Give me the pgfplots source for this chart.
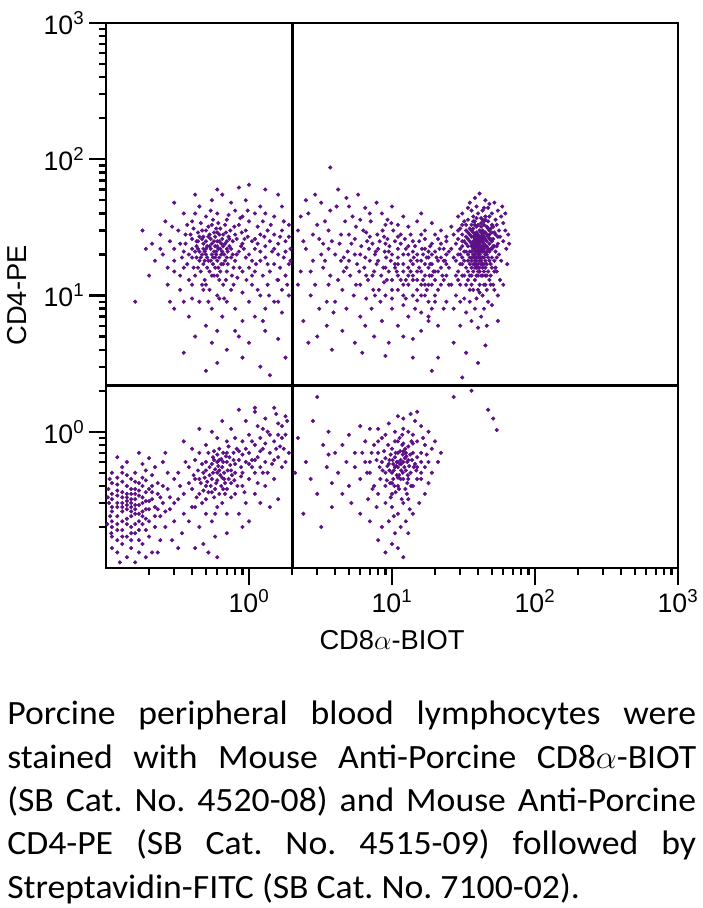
\documentclass[border=0pt]{standalone}
\usepackage{pgfplots}
\pgfplotsset{compat=1.18}
\usepackage{fontspec}
\setmainfont{Liberation Sans}
\newfontfamily\capfont[FakeStretch=1.05]{Carlito}
\definecolor{dotcol}{RGB}{92,16,134}
\pgfplotsset{dots/.style={only marks, mark=*, mark size=1.35pt, color=dotcol, mark options={draw=none, fill=dotcol}}}
\begin{document}
\frenchspacing
\begin{tikzpicture}[x=0.75pt,y=0.75pt]
\path[use as bounding box] (0,0) rectangle (703,908);
\begin{axis}[
  at={(79.5pt,255pt)}, anchor=south west,
  scale only axis, width=429pt, height=408.75pt,
  xmode=log, ymode=log,
  xmin=0.1, xmax=1000, ymin=0.1, ymax=1000,
  axis line style={line width=2.2pt},
  xtick={1,10,100,1000}, ytick={1,10,100,1000},
  xticklabels={10\textsuperscript{0},10\textsuperscript{1},10\textsuperscript{2},10\textsuperscript{3}},
  yticklabels={10\textsuperscript{0},10\textsuperscript{1},10\textsuperscript{2},10\textsuperscript{3}},
  minor xtick={0.2,0.3,0.4,0.5,0.6,0.7,0.8,0.9,2,3,4,5,6,7,8,9,20,30,40,50,60,70,80,90,200,300,400,500,600,700,800,900},
  minor ytick={0.2,0.3,0.4,0.5,0.6,0.7,0.8,0.9,2,3,4,5,6,7,8,9,20,30,40,50,60,70,80,90,200,300,400,500,600,700,800,900},
  tick align=outside,
  xtick pos=bottom, ytick pos=left,
  major tick length=12.75pt, minor tick length=5.25pt,
  every tick/.style={black, line width=1.8pt},
  tick label style={font=\fontsize{20}{22}\selectfont},
  label style={font=\fontsize{20.5}{23}\selectfont},
  xlabel={CD8$\alpha$-BIOT}, ylabel={CD4-PE},
  xlabel style={at={(axis description cs:0.5,-0.132)}, anchor=center},
  ylabel style={at={(axis description cs:-0.1556,0.5)}, anchor=center},
]
% upper right dense cluster (CD4+ CD8 high)
\addplot[dots] coordinates {
(38,20) (40,22) (42,19) (36,24) (44,21) (39,17) (41,26) (37,15) (43,25) (45,18) (35,21) (40,16) (38,28) (42,23) (46,20) (39,14) (44,27) (36,18) (41,20) (43,16) (37,22) (40,25) (42,29) (38,13) (45,23) (35,17) (39,24) (41,15) (47,22) (36,27) (40,19) (43,21) (38,18) (44,15) (37,29) (42,17) (39,21) (46,25) (34,23) (41,24) (40,28) (45,14) (38,23) (43,19) (36,16) (42,26) (39,19) (44,24) (37,19) (40,14) (41,30) (35,25) (46,17) (38,26) (43,28) (40,21) (42,21) (39,27) (45,26) (37,17) (44,19) (36,21) (41,18) (38,16) (43,23) (40,24) (47,19) (35,19) (42,14) (39,23) (44,29) (37,25) (41,22) (46,21) (38,21) (40,17) (43,30) (36,23) (42,25) (39,16) (45,20) (41,27) (37,20) (44,22) (40,20) (38,24) (42,18) (48,24) (34,18) (41,16) (39,29) (43,17) (36,14) (45,29) (40,26) (38,19) (44,17) (37,27) (42,22) (39,18) (46,28) (35,28) (41,21) (43,14) (40,15) (38,22) (44,26) (36,19) (42,27) (39,25) (45,16) (37,23) (41,19) (40,23) (43,26) (47,27) (34,20) (38,17)
(30,20) (32,25) (29,15) (50,22) (52,18) (55,24) (48,30) (33,12) (31,33) (49,14) (27,19) (53,28) (47,35) (34,36) (28,24) (51,32) (56,20) (33,30) (46,11) (30,12) (50,16) (35,11) (48,38) (38,35) (42,37) (44,33) (40,40) (36,33) (54,15) (31,17) (26,22) (57,27) (32,14) (49,26) (45,36) (37,11) (43,10) (39,9.5) (41,12) (35,9) (47,9) (52,11) (30,9) (44,8) (38,8) (33,7.5) (50,8.5) (42,7) (36,6.5) (46,6) (40,5.8) (28,10) (55,10) (29,30) (53,36) (60,25) (62,30) (58,18) (63,22) (65,28) (60,34) (31,40) (34,44) (39,45) (43,42) (47,44) (50,40) (55,42) (45,50) (38,52) (58,38) (27,28) (25,16) (26,12) (24,25) (29,38) (35,48) (52,48) (62,40) (41,56) (36,42) (64,17) (57,13) (49,12) (32,9.5) (28,14) (54,33) (37,38) (26,32) (59,45) (66,24) (44,44) (48,47) (40,33) (46,32) (33,27) (50,29) (36,30) (42,32) (52,23) (31,23) (48,18) (34,13) (45,12) (39,32) (27,8) (60,12) (23,18) (55,6.5) (30,6) (24,9)
(30,22) (31,28) (32,18) (33,24) (29,26) (31,14) (33,33) (30,17) (32,21) (34,29) (29,20) (31,25) (33,16) (30,31) (28,18) (32,35) (34,15) (29,13) (31,19) (33,21)
(49,22) (50,19) (51,26) (52,15) (48,28) (53,21) (50,33) (49,17) (51,23) (54,19) (48,13) (52,29) (50,25) (53,16) (49,31) (55,27) (51,12) (48,21) (54,23) (56,30)
(36,12) (40,11) (44,12) (38,33) (42,34) (46,14) (35,31) (47,31) (45,38) (37,35) (43,36) (41,10.5) (39,37) (47,15) (34,26) (46,23) (35,14) (44,35) (37,31) (48,26)
};
% upper middle diffuse cluster
\addplot[dots] coordinates {
(2.2,30) (2.5,22) (2.8,18) (3.1,26) (3.4,35) (3.7,14) (4.0,20) (4.4,28) (4.8,16) (5.2,24) (5.6,32) (6.0,12) (6.5,19) (7.0,27) (7.5,15) (8.0,22) (8.6,30) (9.2,13) (9.8,18) (10.5,25) (11,11) (12,17) (13,23) (14,14) (15,20) (16,28) (17,12) (18,16) (19,24) (20,10) (22,19) (24,14)
(2.3,15) (2.6,40) (2.9,12) (3.2,20) (3.5,9) (3.8,25) (4.1,45) (4.5,11) (4.9,21) (5.3,38) (5.7,17) (6.1,23) (6.6,9.5) (7.1,35) (7.6,20) (8.1,11) (8.7,16) (9.3,26) (10,20) (11,14) (12,8.5) (13,16) (14,25) (15,11) (16,18) (17,22) (18,9) (19,14) (21,26) (23,8)
(2.4,25) (2.7,10) (3.0,33) (3.3,16) (3.6,22) (3.9,7.5) (4.2,13) (4.6,19) (5.0,28) (5.4,10) (5.9,15) (6.3,30) (6.8,13) (7.3,24) (7.8,17) (8.3,9) (8.9,21) (9.5,15) (10.2,30) (11,19) (12,12) (13,20) (14,10) (15,15) (16,7.5) (17,17) (18,21) (19,12) (21,15) (23,22)
(2.2,12) (2.5,50) (2.8,28) (3.1,8) (3.4,18) (3.7,42) (4.0,9) (4.3,24) (4.7,35) (5.1,14) (5.5,20) (6.0,7) (6.4,16) (6.9,22) (7.4,11) (7.9,28) (8.4,14) (9.0,10) (9.6,23) (10.5,16) (11.5,24) (12.5,13) (13.5,18) (14.5,8) (15.5,25) (16.5,13) (17.5,19) (18.5,17) (20,15) (22,12) (24,20)
(3.0,5) (3.5,6) (4.5,5.5) (5.5,4.5) (6.5,6) (7.5,5) (8.5,6.5) (9.5,4.5) (11,6) (12,5) (13,7) (14,4.8) (16,5.5) (18,6.5) (2.4,6.5) (4.8,8) (7.2,8) (10,8) (12.5,9.5) (15,9.2) (19,8) (21,6) (2.6,4.5) (3.8,4) (6.2,3.8) (9,3.6) (14,3.5)
(3.2,48) (4.8,52) (6.5,44) (8.5,40) (10,45) (12,38) (5.8,55) (7.8,48) (9.3,36) (11,33) (13,32) (15,35) (17,30) (19,34) (2.9,55) (4.2,60) (6,36) (16,40) (13.5,28) (11.5,28) (9,33) (7,40) (5,45) (3.6,30) (2.3,38)
(8,18) (9,16) (10,13) (11,22) (12,20) (13,12) (14,17) (15,13) (16,15) (17,14) (18,19) (19,17) (20,13) (21,18) (22,16) (20,21) (18,12) (16,10) (14,21) (12,15) (10,11) (9,24) (11,17) (13,14) (15,18) (17,10) (19,20) (21,11) (22,24) (24,17) (23,13) (20,28) (17,26) (6,20) (7,18) (5,18) (6.7,25) (7.3,14) (8.2,25) (9.1,19) (10.8,15) (12.3,26) (14.2,19) (16.2,22) (18.3,14)
(9.5,21) (10.5,17) (11.5,13) (12.5,22) (13.5,15) (14.5,23) (15.5,16) (16.5,20) (17.5,11) (18.5,23) (19.5,15) (20.5,19) (21.5,22) (22.5,14) (23.5,18) (25,21) (25,12) (24,27) (22,30) (20,9) (18,7) (16,12) (14,13) (12,10) (10,9.5) (8.8,12.5) (7.6,10) (6.6,14) (5.6,12) (4.6,15) (3.6,12) (2.7,15) (3.3,24) (4.4,18) (5.5,26) (6.6,29) (7.7,21) (8.8,27) (9.9,34) (11,27)
};
% upper left cluster (CD4+ CD8-)
\addplot[dots] coordinates {
(0.5,22) (0.55,20) (0.6,25) (0.45,18) (0.65,21) (0.52,27) (0.58,16) (0.48,24) (0.7,19) (0.42,21) (0.62,28) (0.55,14) (0.5,30) (0.68,24) (0.4,26) (0.6,18) (0.53,23) (0.75,22) (0.46,15) (0.57,21) (0.63,15) (0.44,29) (0.72,27) (0.51,19) (0.66,17) (0.38,20) (0.59,31) (0.49,13) (0.8,18) (0.43,23) (0.61,22) (0.54,26) (0.47,20) (0.69,29) (0.56,17) (0.41,16) (0.64,24) (0.5,12) (0.77,25) (0.36,24) (0.58,27) (0.52,18) (0.7,15) (0.45,27) (0.62,19) (0.55,33) (0.48,17) (0.67,20) (0.4,19) (0.6,23) (0.85,21) (0.53,15) (0.74,30) (0.44,22) (0.57,25) (0.5,20) (0.65,26) (0.39,28) (0.62,13) (0.47,26) (0.71,21) (0.54,22) (0.59,20) (0.42,14) (0.68,18) (0.5,25) (0.78,16) (0.45,21) (0.63,31) (0.56,19) (0.37,17) (0.61,16) (0.52,32) (0.73,23) (0.48,22) (0.66,23) (0.43,25) (0.57,14) (0.82,26) (0.51,16) (0.6,29) (0.46,19) (0.69,13) (0.55,24) (0.4,22) (0.64,20) (0.53,28) (0.75,19) (0.49,18) (0.58,23) (0.88,23) (0.35,21) (0.62,25) (0.47,30) (0.7,25) (0.54,18) (0.44,16) (0.66,28) (0.59,21) (0.8,28)
(0.25,20) (0.28,25) (0.3,15) (0.32,30) (0.27,12) (0.22,18) (0.24,28) (0.3,22) (0.33,11) (0.26,35) (0.21,24) (0.35,9) (0.9,15) (1.0,20) (1.1,26) (1.2,18) (0.95,30) (1.05,12) (1.3,23) (1.4,15) (1.5,28) (1.6,20) (1.7,11) (1.8,25) (1.9,17) (1.25,35) (1.1,40) (0.9,38) (0.8,42) (0.7,36) (0.6,40) (0.5,38) (0.45,45) (0.4,35) (0.35,40) (0.55,50) (0.75,48) (0.65,55) (0.95,50) (1.2,45) (1.5,38) (1.7,45) (1.9,33) (1.3,60) (0.85,62) (0.6,60) (1.0,65) (1.6,55) (0.3,48) (0.42,55)
(0.3,8) (0.38,7) (0.45,9) (0.5,6) (0.55,8) (0.6,10) (0.65,7) (0.7,9) (0.75,11) (0.8,8) (0.9,6.5) (1.0,9) (1.1,7) (1.2,10) (1.3,8) (1.5,9) (1.7,7.5) (1.9,10) (0.42,5) (0.55,4.5) (0.7,4) (0.85,5) (1.0,4.5) (1.3,5.5) (1.6,4.8) (0.35,3.8) (0.6,3.2) (0.9,3.5) (1.2,3) (1.8,3.5) (0.5,2.8) (1.4,2.6) (0.48,11) (0.62,9.5) (0.78,12) (0.9,10.5) (1.05,14) (1.15,11) (1.35,12) (1.6,13) (1.8,14) (0.4,12) (0.33,14) (0.28,9)
(1.0,16) (1.1,22) (1.2,28) (0.9,24) (0.95,19) (1.05,25) (1.3,19) (1.4,25) (1.5,17) (1.6,24) (1.7,30) (1.8,21) (1.9,27) (1.45,21) (1.25,14) (1.15,32) (0.85,33) (0.98,27) (1.35,30) (1.65,16) (1.75,19) (1.95,22) (0.18,30) (0.16,9) (0.2,14) (0.19,22)
(0.3,18) (0.33,24) (0.36,28) (0.38,13) (0.41,31) (0.43,19) (0.46,34) (0.48,27) (0.51,23) (0.53,11) (0.56,36) (0.58,19) (0.61,34) (0.63,22) (0.66,12) (0.68,33) (0.71,17) (0.73,26) (0.76,14) (0.79,32) (0.82,20) (0.86,16) (0.89,29) (0.92,22) (0.96,13) (1.0,35) (1.05,18) (1.1,15) (1.15,24) (1.2,21) (1.28,27) (1.35,17) (1.42,33) (1.5,22) (1.58,13) (1.65,27) (1.75,35) (1.85,12) (1.95,18) (0.27,16) (0.24,22) (0.29,32) (0.34,19) (0.37,33) (0.4,9.5) (0.52,9) (0.67,9.5) (0.83,13.5) (0.72,39) (0.54,42) (0.42,40) (0.98,42) (1.3,40) (1.12,17) (0.93,26) (0.57,29) (0.49,21) (0.44,25) (0.64,17) (0.6,14) (0.7,22) (0.77,20) (0.35,16) (0.47,12) (0.87,37) (1.38,10) (1.6,9) (1.25,6.5) (0.8,5.5) (0.6,5.5)
};
% lower left cluster (double negative)
\addplot[dots] coordinates {
(0.12,0.3) (0.14,0.27) (0.16,0.32) (0.13,0.22) (0.15,0.35) (0.11,0.26) (0.17,0.25) (0.14,0.4) (0.12,0.19) (0.18,0.3) (0.13,0.33) (0.16,0.21) (0.11,0.35) (0.15,0.28) (0.19,0.36) (0.12,0.24) (0.14,0.31) (0.17,0.19) (0.105,0.3) (0.2,0.27) (0.13,0.43) (0.15,0.18) (0.18,0.4) (0.11,0.2) (0.16,0.29) (0.14,0.23) (0.12,0.37) (0.17,0.34) (0.13,0.26) (0.21,0.32) (0.15,0.45) (0.11,0.42) (0.19,0.23) (0.14,0.17) (0.16,0.38) (0.12,0.28) (0.18,0.26) (0.13,0.3) (0.2,0.38) (0.15,0.24) (0.107,0.24) (0.17,0.29) (0.14,0.35) (0.12,0.16) (0.22,0.28) (0.16,0.25) (0.13,0.19) (0.19,0.31) (0.11,0.32) (0.15,0.32) (0.18,0.21) (0.14,0.29) (0.12,0.46) (0.17,0.42) (0.23,0.35) (0.13,0.36) (0.16,0.18) (0.11,0.28) (0.2,0.22) (0.15,0.26)
(0.12,0.13) (0.15,0.14) (0.18,0.15) (0.11,0.14) (0.14,0.12) (0.2,0.17) (0.13,0.15) (0.17,0.13) (0.22,0.2) (0.24,0.24) (0.25,0.3) (0.23,0.42) (0.21,0.48) (0.19,0.52) (0.16,0.5) (0.13,0.55) (0.11,0.5) (0.14,0.6) (0.18,0.58) (0.22,0.55) (0.25,0.6) (0.27,0.38) (0.26,0.2) (0.24,0.16) (0.21,0.13) (0.28,0.27) (0.27,0.5) (0.3,0.45) (0.12,0.65) (0.17,0.7) (0.2,0.64) (0.104,0.38) (0.16,0.11) (0.19,0.12) (0.125,0.11) (0.3,0.22) (0.32,0.32) (0.29,0.16) (0.23,0.13) (0.26,0.7)
(0.11,0.22) (0.12,0.34) (0.13,0.28) (0.14,0.21) (0.15,0.3) (0.16,0.35) (0.17,0.22) (0.18,0.33) (0.19,0.27) (0.2,0.31) (0.12,0.41) (0.14,0.48) (0.16,0.43) (0.18,0.46) (0.21,0.4) (0.11,0.17) (0.13,0.17) (0.15,0.2) (0.17,0.16) (0.19,0.19) (0.102,0.21) (0.103,0.33) (0.106,0.45) (0.109,0.18) (0.22,0.24) (0.24,0.33) (0.23,0.27) (0.26,0.26) (0.25,0.4) (0.28,0.33) (0.13,0.5) (0.15,0.38) (0.17,0.37) (0.19,0.44) (0.21,0.36) (0.15,0.16) (0.12,0.21) (0.14,0.33) (0.16,0.27) (0.18,0.24)
};
% lower left second cluster
\addplot[dots] coordinates {
(0.6,0.5) (0.55,0.45) (0.65,0.55) (0.5,0.4) (0.7,0.6) (0.58,0.38) (0.62,0.62) (0.48,0.5) (0.72,0.45) (0.45,0.35) (0.66,0.7) (0.53,0.55) (0.75,0.52) (0.57,0.33) (0.42,0.45) (0.68,0.42) (0.6,0.68) (0.5,0.6) (0.8,0.58) (0.46,0.42) (0.63,0.48) (0.55,0.58) (0.73,0.65) (0.52,0.36) (0.4,0.38) (0.67,0.5) (0.59,0.42) (0.78,0.7) (0.49,0.46) (0.61,0.56) (0.7,0.38) (0.56,0.65) (0.44,0.52) (0.85,0.62) (0.64,0.4) (0.53,0.48) (0.76,0.48) (0.47,0.58) (0.62,0.35) (0.69,0.66) (0.58,0.53) (0.82,0.75) (0.51,0.43) (0.38,0.42) (0.66,0.6) (0.6,0.44) (0.74,0.57) (0.43,0.33) (0.57,0.72) (0.88,0.55) (0.54,0.4) (0.71,0.52) (0.64,0.63) (0.48,0.37) (0.79,0.44) (0.56,0.5) (0.41,0.48) (0.67,0.45) (0.62,0.75) (0.9,0.68)
(0.3,0.3) (0.33,0.4) (0.35,0.25) (0.32,0.5) (0.36,0.6) (0.38,0.22) (0.34,0.18) (0.42,0.28) (0.45,0.2) (0.5,0.25) (0.55,0.22) (0.6,0.28) (0.65,0.3) (0.7,0.25) (0.58,0.17) (0.48,0.15) (0.42,0.14) (0.75,0.33) (0.8,0.35) (0.9,0.4) (1.0,0.45) (1.1,0.5) (1.2,0.55) (1.3,0.6) (1.0,0.7) (1.1,0.8) (1.2,0.9) (0.95,0.6) (1.05,0.55) (1.15,0.65) (1.25,0.75) (1.4,0.7) (1.5,0.85) (1.6,0.65) (1.7,0.9) (1.35,1.0) (1.15,1.1) (1.0,0.95) (0.9,0.85) (0.8,0.9) (0.7,0.85) (0.6,0.9) (0.5,0.8) (0.45,0.7) (0.4,0.75) (0.55,1.0) (0.75,1.05) (0.95,1.2) (1.3,1.25) (1.6,1.15) (1.8,0.95) (1.7,0.55) (1.5,0.45) (1.3,0.4) (1.1,0.35) (0.95,0.3) (0.85,0.25) (1.2,0.3) (1.4,0.28) (0.9,0.2) (1.8,0.6) (1.55,1.35) (1.1,1.4) (0.65,1.2) (0.45,1.05) (0.35,0.85) (1.25,0.5) (1.05,0.62) (0.88,0.47) (1.45,0.58) (1.65,0.78) (1.75,0.75) (1.9,0.7) (0.32,0.14) (0.52,0.13) (0.7,0.18) (1.0,0.22) (1.6,0.32) (1.85,1.2) (0.85,1.45) (0.6,0.12)
(0.45,0.45) (0.5,0.52) (0.55,0.36) (0.6,0.6) (0.65,0.46) (0.7,0.7) (0.75,0.42) (0.8,0.5) (0.85,0.72) (0.9,0.5) (0.95,0.75) (1.0,0.58) (1.05,0.85) (1.1,0.62) (1.2,0.72) (1.3,0.82) (1.4,0.95) (1.5,0.62) (1.6,0.95) (1.7,1.1) (0.38,0.55) (0.42,0.62) (0.47,0.3) (0.52,0.7) (0.57,0.62) (0.62,0.52) (0.68,0.35) (0.72,0.78) (0.78,0.62) (0.83,0.4) (0.35,0.35) (0.4,0.28) (0.5,0.32) (0.58,0.25) (0.66,0.38) (0.93,0.36) (1.15,0.42) (1.35,0.5) (1.55,0.75) (1.25,1.05)
};
% lower middle cluster (CD8+ CD4-)
\addplot[dots] coordinates {
(11,0.55) (10,0.5) (12,0.6) (10.5,0.65) (11.5,0.45) (9.5,0.58) (12.5,0.52) (11,0.7) (10,0.42) (13,0.62) (9,0.5) (11.8,0.8) (10.8,0.48) (12,0.72) (9.8,0.68) (13.5,0.5) (11.2,0.38) (10.2,0.58) (12.8,0.42) (11.5,0.62) (8.5,0.6) (14,0.7) (10.5,0.85) (12.2,0.55) (9.2,0.44) (11,0.6) (13,0.78) (10,0.75) (11.6,0.52) (8.8,0.72) (12.6,0.66) (10.4,0.4) (14.5,0.58) (11.3,0.9) (9.6,0.52) (12,0.45) (13.2,0.56) (10.7,0.56) (11.9,0.68) (9,0.64) (15,0.65) (10.1,0.62) (12.4,0.75) (11,0.46) (13.8,0.62) (8.6,0.52) (11.4,0.72) (10.6,0.36) (12.9,0.48) (9.4,0.8)
(7,0.5) (7.5,0.4) (6.5,0.6) (8,0.35) (6,0.45) (5.5,0.55) (5,0.4) (7.2,0.7) (8,0.85) (6.8,0.32) (7.8,0.28) (9,0.3) (10,0.28) (11,0.25) (12,0.3) (13,0.32) (14,0.4) (15,0.45) (16,0.5) (17,0.55) (18,0.6) (16,0.7) (15,0.85) (14,0.95) (13,1.0) (12,1.05) (10.5,1.0) (17,0.8) (19,0.75) (20,0.85) (18,1.0) (16,1.1) (14.5,1.2) (12,1.25) (13.5,1.35) (9,0.95) (8,1.05) (6.5,0.85) (5.5,0.7) (4.8,0.6) (4.5,0.35) (5.2,0.3) (6,0.25) (7,0.22) (8.5,0.2) (9.5,0.22) (10.5,0.18) (11.5,0.2) (12.5,0.22) (13,0.18) (10,0.15) (11,0.14) (12,0.12) (9,0.13) (8,0.16) (14,0.25) (15.5,0.3) (17,0.35) (18,0.42) (19,0.5) (21,0.6) (22,0.7) (4.2,0.5) (3.8,0.42) (3.5,0.55) (4,0.7) (4.5,0.8) (5,0.95) (6,1.1) (7,1.05) (9.5,1.15) (11,1.3) (15,1.4) (16.5,0.9) (7.8,0.62) (8.3,0.45) (6.7,0.5) (14.8,0.52) (16,0.6) (13.7,0.85) (17.5,0.68) (12.7,0.35) (9.8,0.33) (11.7,0.32) (10.3,0.24) (7.3,0.38) (13.3,0.27)
(10.8,0.6) (11.6,0.58) (12.3,0.64) (10.3,0.52) (11.2,0.48) (12.8,0.6) (9.6,0.62) (11.9,0.5) (10.6,0.7) (13.4,0.68) (9.3,0.56) (12,0.82) (11,0.4) (10.2,0.45) (13,0.45) (8.2,0.55) (14.2,0.55) (11.4,0.58) (12.5,0.7) (10.5,0.55) (9,0.4) (8,0.7) (7,0.6) (13.6,0.4) (15,0.55) (11,0.85) (12.4,0.38) (9.7,0.42) (10,0.35) (11.8,0.95) (14,0.82) (16,0.45) (7.5,0.8) (8.5,0.9) (6.2,0.7)
};
% sparse events
\addplot[dots] coordinates {
(2.2,0.9) (2.5,0.6) (2.8,1.2) (3.0,0.35) (3.3,0.8) (2.4,0.25) (2.7,0.45) (3.6,1.0) (3.2,0.2) (2.1,0.5) (3.8,0.28) (3.0,1.8) (3.6,0.68) (1.5,1.5) (1.8,1.3) (1.1,1.5) (27,1.8) (47,1.45) (51,1.25) (54,1.03) (36,2.0) (3.7,87) (31,2.5) (40,3.2) (33,3.8) (45,4.3) (27,4.5) (21,3.5) (19,2.8)
};
% quadrant markers
\addplot[black, line width=2.2pt, no marks] coordinates {(2,0.1) (2,1000)};
\addplot[black, line width=2.2pt, no marks] coordinates {(0.1,2.2) (1000,2.2)};
\end{axis}
\begin{scope}[every node/.style={anchor=base west, inner sep=0pt, font=\capfont\fontsize{25.5}{30}\selectfont}]
\node at (7,183) {\makebox[516.75pt][s]{Porcine peripheral blood lymphocytes were}};
\node at (7,139.7) {\makebox[516.75pt][s]{stained with Mouse Anti-Porcine CD8$\alpha$-BIOT}};
\node at (7,96.4) {\makebox[516.75pt][s]{(SB Cat. No. 4520-08) and Mouse Anti-Porcine}};
\node at (7,53.1) {\makebox[516.75pt][s]{CD4-PE (SB Cat. No. 4515-09) followed by}};
\node at (7,9.8) {Streptavidin-FITC (SB Cat. No. 7100-02).};
\end{scope}
\end{tikzpicture}
\end{document}
